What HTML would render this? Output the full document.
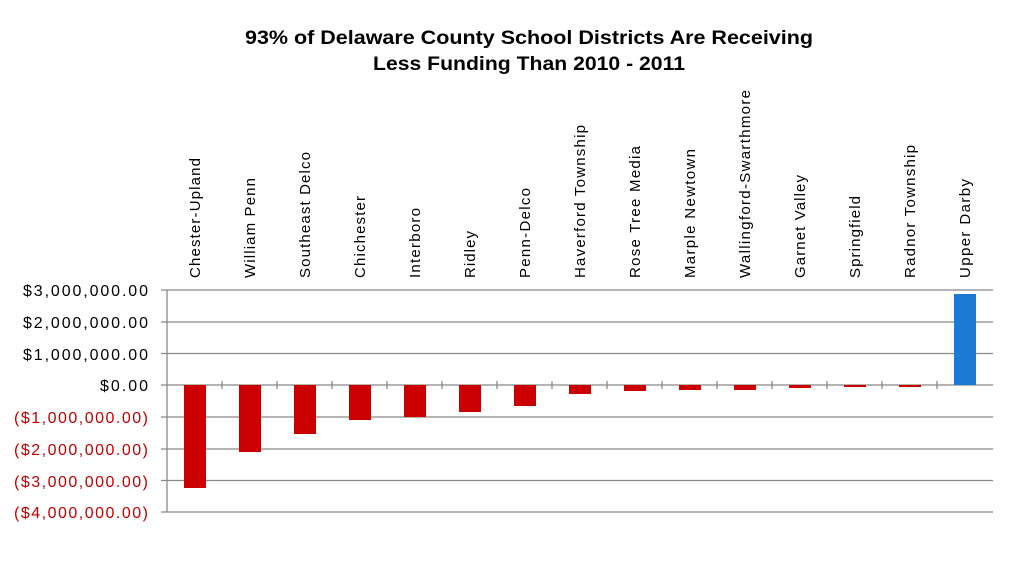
<!DOCTYPE html>
<html><head><style>body{margin:0;background:#fff}svg{display:block}</style></head><body>
<svg width="1024" height="582" xmlns="http://www.w3.org/2000/svg" font-family="Liberation Sans, sans-serif">
<text x="529" y="44" font-size="19" font-weight="bold" text-anchor="middle" textLength="568" lengthAdjust="spacingAndGlyphs">93% of Delaware County School Districts Are Receiving</text>
<text x="529" y="70" font-size="19" font-weight="bold" text-anchor="middle" textLength="312" lengthAdjust="spacingAndGlyphs">Less Funding Than 2010 - 2011</text>
<g stroke="#888" stroke-width="1.3">
<line x1="161" y1="290" x2="993" y2="290"/>
<line x1="161" y1="322" x2="993" y2="322"/>
<line x1="161" y1="353.5" x2="993" y2="353.5"/>
<line x1="161" y1="385" x2="993" y2="385"/>
<line x1="161" y1="417" x2="993" y2="417"/>
<line x1="161" y1="449" x2="993" y2="449"/>
<line x1="161" y1="480.5" x2="993" y2="480.5"/>
<line x1="161" y1="512" x2="993" y2="512"/>
<line x1="167" y1="290" x2="167" y2="512"/>
</g>
<g font-size="16" text-anchor="end" lengthAdjust="spacingAndGlyphs">
<text x="148" y="296" textLength="125">$3,000,000.00</text>
<text x="148" y="328" textLength="125">$2,000,000.00</text>
<text x="148" y="360" textLength="125">$1,000,000.00</text>
<text x="148" y="391" textLength="48">$0.00</text>
<g fill="#c00000">
<text x="148" y="423" textLength="134">($1,000,000.00)</text>
<text x="148" y="455" textLength="134">($2,000,000.00)</text>
<text x="148" y="487" textLength="134">($3,000,000.00)</text>
<text x="148" y="518" textLength="134">($4,000,000.00)</text>
</g></g>
<g stroke="#888" stroke-width="1.3">
<line x1="222" y1="381" x2="222" y2="389"/><line x1="277" y1="381" x2="277" y2="389"/><line x1="332" y1="381" x2="332" y2="389"/><line x1="387" y1="381" x2="387" y2="389"/><line x1="442" y1="381" x2="442" y2="389"/><line x1="497" y1="381" x2="497" y2="389"/><line x1="552" y1="381" x2="552" y2="389"/><line x1="607" y1="381" x2="607" y2="389"/><line x1="662" y1="381" x2="662" y2="389"/><line x1="717" y1="381" x2="717" y2="389"/><line x1="772" y1="381" x2="772" y2="389"/><line x1="827" y1="381" x2="827" y2="389"/><line x1="882" y1="381" x2="882" y2="389"/><line x1="937" y1="381" x2="937" y2="389"/>
</g>
<g fill="#cc0000">
<rect x="184" y="385" width="22" height="103"/>
<rect x="239" y="385" width="22" height="67"/>
<rect x="294" y="385" width="22" height="49"/>
<rect x="349" y="385" width="22" height="35"/>
<rect x="404" y="385" width="22" height="32"/>
<rect x="459" y="385" width="22" height="27"/>
<rect x="514" y="385" width="22" height="21"/>
<rect x="569" y="385" width="22" height="9"/>
<rect x="624" y="385" width="22" height="6"/>
<rect x="679" y="385" width="22" height="5"/>
<rect x="734" y="385" width="22" height="5"/>
<rect x="789" y="385" width="22" height="3"/>
<rect x="844" y="385" width="22" height="2"/>
<rect x="899" y="385" width="22" height="2"/>
</g>
<rect x="954" y="294" width="22" height="91" fill="#1a7ad4"/>
<g font-size="15" lengthAdjust="spacingAndGlyphs">
<text transform="translate(200,278) rotate(-90)" textLength="120">Chester-Upland</text>
<text transform="translate(255,278) rotate(-90)" textLength="100">William Penn</text>
<text transform="translate(310,278) rotate(-90)" textLength="126">Southeast Delco</text>
<text transform="translate(365,278) rotate(-90)" textLength="82">Chichester</text>
<text transform="translate(420,278) rotate(-90)" textLength="70">Interboro</text>
<text transform="translate(475,278) rotate(-90)" textLength="47">Ridley</text>
<text transform="translate(530,278) rotate(-90)" textLength="90">Penn-Delco</text>
<text transform="translate(585,278) rotate(-90)" textLength="153">Haverford Township</text>
<text transform="translate(640,278) rotate(-90)" textLength="132">Rose Tree Media</text>
<text transform="translate(695,278) rotate(-90)" textLength="129">Marple Newtown</text>
<text transform="translate(750,278) rotate(-90)" textLength="188">Wallingford-Swarthmore</text>
<text transform="translate(805,278) rotate(-90)" textLength="103">Garnet Valley</text>
<text transform="translate(860,278) rotate(-90)" textLength="82">Springfield</text>
<text transform="translate(915,278) rotate(-90)" textLength="133">Radnor Township</text>
<text transform="translate(970,278) rotate(-90)" textLength="99">Upper Darby</text>
</g>
</svg>
</body></html>
